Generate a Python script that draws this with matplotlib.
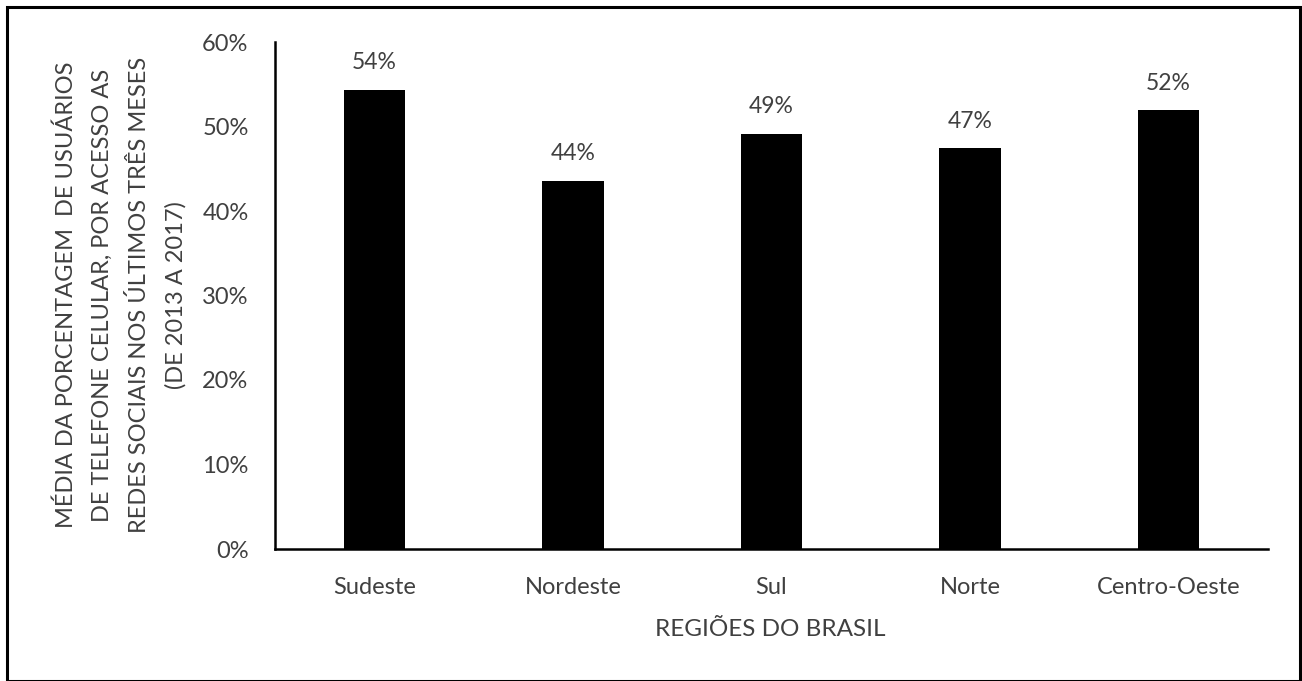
import matplotlib
matplotlib.use("Agg")
import matplotlib.pyplot as plt
from matplotlib.patches import Rectangle
from matplotlib.ticker import FuncFormatter

regions = ["Sudeste", "Nordeste", "Sul", "Norte", "Centro-Oeste"]
values = [54.3, 43.6, 49.1, 47.4, 51.9]
labels = ["54%", "44%", "49%", "47%", "52%"]
yticks = [0, 10, 20, 30, 40, 50, 60]

plt.rcParams['font.family'] = ['Lato', 'DejaVu Sans']
txt = '#404040'

fig = plt.figure(figsize=(13.02, 6.81), dpi=100)
fig.patches.append(Rectangle((7/1302, 0), 1293/1302, 1-7/681, transform=fig.transFigure,
                             fill=False, edgecolor='black', linewidth=2.2))

ax = fig.add_axes([275/1302, 1-549/681, (1268-275)/1302, (549-42)/681])
x = list(range(len(regions)))
ax.bar(x, values, width=0.31, color='black')
for xi, v, l in zip(x, values, labels):
    ax.text(xi, v + 2.0, l, ha='center', va='bottom', fontsize=16.5, color=txt)

ax.set_xlim(-0.5, len(regions) - 0.5)
ax.set_ylim(0, 60)
ax.set_yticks(yticks)
ax.yaxis.set_major_formatter(FuncFormatter(lambda v, p: f"{int(v)}%"))
ax.set_xticks(x)
ax.set_xticklabels(regions)
ax.tick_params(axis='both', length=0, labelsize=17, colors=txt)
ax.tick_params(axis='x', pad=20)
ax.tick_params(axis='y', pad=19)
for s in ['top', 'right']:
    ax.spines[s].set_visible(False)
for s in ['left', 'bottom']:
    ax.spines[s].set_linewidth(1.8)
    ax.spines[s].set_color('black')

fig.text(770/1302, 1-630/681, "REGIÕES DO BRASIL", ha='center', va='center', fontsize=17.5, color=txt)
fig.text(121/1302, 1-295/681,
         "MÉDIA DA PORCENTAGEM  DE USUÁRIOS\nDE TELEFONE CELULAR, POR ACESSO AS\nREDES SOCIAIS NOS ÚLTIMOS TRÊS MESES\n(DE 2013 A 2017)",
         ha='center', va='center', rotation=90, fontsize=17, color=txt, linespacing=1.85)

fig.savefig("out.png", dpi=100)
